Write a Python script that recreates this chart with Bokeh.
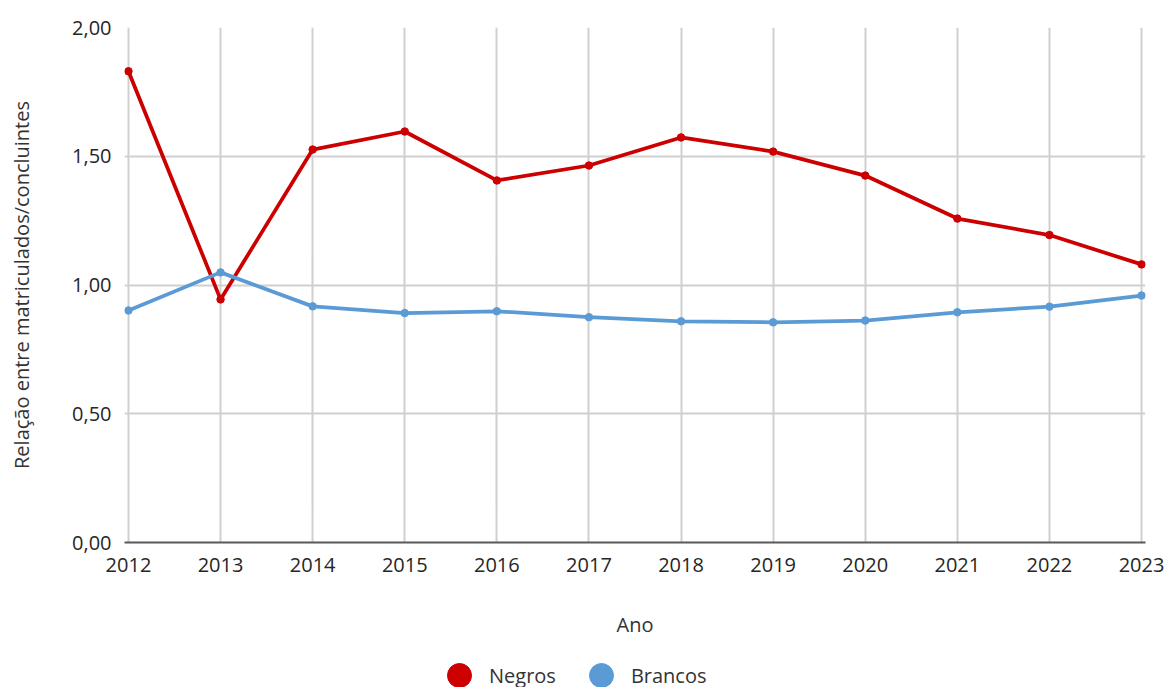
from bokeh.plotting import figure
from bokeh.layouts import column
from bokeh.models import FixedTicker, CustomJSTickFormatter, Legend, LegendItem, Range1d
from bokeh.embed import file_html
from bokeh.resources import INLINE

anos = [2012, 2013, 2014, 2015, 2016, 2017, 2018, 2019, 2020, 2021, 2022, 2023]
negros = [1.83, 0.944, 1.526, 1.596, 1.406, 1.464, 1.573, 1.518, 1.425, 1.258, 1.194, 1.080]
brancos = [0.901, 1.049, 0.917, 0.891, 0.898, 0.875, 0.859, 0.855, 0.862, 0.894, 0.916, 0.959]
y_ticks = [0.0, 0.5, 1.0, 1.5, 2.0]
series_names = ["Negros", "Brancos"]

RED = "#CC0000"
BLUE = "#5B9BD5"
FONT = "Open Sans"
TICK_TXT = "#262626"
TXT = "#333333"

p = figure(width=1166, height=650, output_backend="svg", toolbar_location=None,
           x_range=Range1d(2011.957, 2023.043), y_range=Range1d(0, 2),
           min_border_left=124, min_border_right=21, min_border_top=27, min_border_bottom=108)
p.outline_line_color = None

# grid
p.xgrid.ticker = FixedTicker(ticks=anos)
p.ygrid.ticker = FixedTicker(ticks=y_ticks)
for g in (p.xgrid, p.ygrid):
    g.grid_line_color = "#D0D0D0"
    g.grid_line_width = 2

# x axis
xa = p.xaxis[0]
xa.ticker = FixedTicker(ticks=anos)
xa.axis_line_color = "#595959"
xa.axis_line_width = 2
xa.major_tick_line_color = None
xa.minor_tick_line_color = None
xa.major_tick_out = 0
xa.major_tick_in = 0
xa.major_label_standoff = 15
xa.major_label_text_font = FONT
xa.major_label_text_font_size = "20px"
xa.major_label_text_color = TICK_TXT
xa.axis_label = "Ano"
xa.axis_label_text_font = FONT
xa.axis_label_text_font_size = "20px"
xa.axis_label_text_font_style = "normal"
xa.axis_label_text_color = TXT
xa.axis_label_standoff = 36

# y axis
ya = p.yaxis[0]
ya.ticker = FixedTicker(ticks=y_ticks)
ya.formatter = CustomJSTickFormatter(code="return tick.toFixed(2).replace('.', ',');")
ya.axis_line_color = None
ya.major_tick_line_color = None
ya.major_tick_out = 0
ya.major_tick_in = 0
ya.minor_tick_line_color = None
ya.major_label_standoff = 13
ya.major_label_text_font = FONT
ya.major_label_text_font_size = "20px"
ya.major_label_text_color = TICK_TXT
ya.axis_label = "Relação entre matriculados/concluintes"
ya.axis_label_text_font = FONT
ya.axis_label_text_font_size = "20px"
ya.axis_label_text_font_style = "normal"
ya.axis_label_text_color = TXT
ya.axis_label_standoff = 34

# series
p.line(anos, negros, line_color=RED, line_width=3.75)
p.scatter(anos, negros, size=7.5, fill_color=RED, line_color=RED)
p.line(anos, brancos, line_color=BLUE, line_width=3.75)
p.scatter(anos, brancos, size=7.5, fill_color=BLUE, line_color=BLUE)

# legend strip (swatch renderers sit outside the visible range)
lg = figure(width=1166, height=37, output_backend="svg", toolbar_location=None,
            x_axis_type=None, y_axis_type=None, x_range=Range1d(0, 1), y_range=Range1d(0, 1),
            min_border=0)
lg.outline_line_color = None
lg.xgrid.visible = False
lg.ygrid.visible = False
sw_neg = lg.scatter(x=[-5], y=[-5], fill_color=RED, line_color=RED)
sw_bra = lg.scatter(x=[-5], y=[-5], fill_color=BLUE, line_color=BLUE)
legend = Legend(items=[LegendItem(label=series_names[0], renderers=[sw_neg]),
                       LegendItem(label=series_names[1], renderers=[sw_bra])],
                orientation="horizontal", location=(305, -18),
                glyph_width=60, glyph_height=60, label_standoff=0, spacing=15,
                padding=0, margin=0, border_line_color=None, background_fill_alpha=0,
                label_text_font=FONT, label_text_font_size="20px", label_text_color=TXT)
lg.add_layout(legend, "center")

layout = column(p, lg, spacing=0)
open("out.html", "w").write(file_html(layout, INLINE))
